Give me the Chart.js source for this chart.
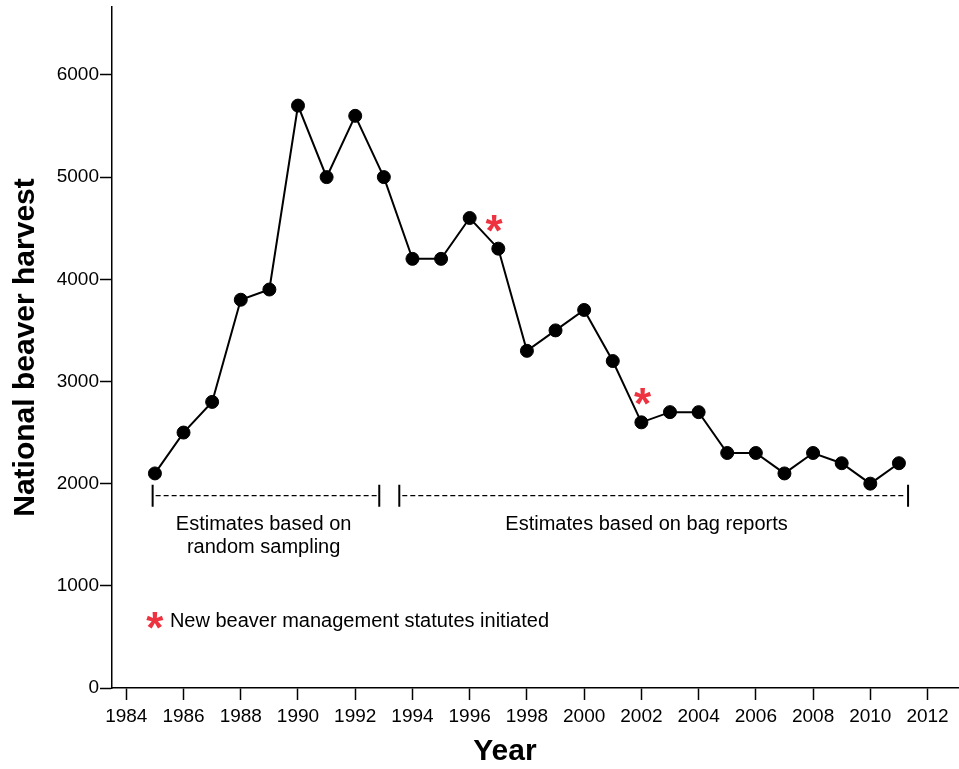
<!DOCTYPE html>
<html>
<head>
<meta charset="utf-8">
<script src="https://cdn.jsdelivr.net/npm/chart.js@4/dist/chart.umd.min.js"></script>
<style>
  body { margin: 0; background: #fff; }
  #chart { display: block; }
</style>
</head>
<body>
<canvas id="chart" width="959" height="769"></canvas>
<script>
const years = [1985, 1986, 1987, 1988, 1989, 1990, 1991, 1992, 1993, 1994, 1995, 1996, 1997, 1998,
  1999, 2000, 2001, 2002, 2003, 2004, 2005, 2006, 2007, 2008, 2009, 2010, 2011];
const harvest = [2100, 2500, 2800, 3800, 3900, 5700, 5000, 5600, 5000, 4200, 4200, 4600, 4300, 3300,
  3500, 3700, 3200, 2600, 2700, 2700, 2300, 2300, 2100, 2300, 2200, 2000, 2200];
const xTicks = [1984, 1986, 1988, 1990, 1992, 1994, 1996, 1998, 2000, 2002, 2004, 2006, 2008, 2010, 2012];
const yTicks = [0, 1000, 2000, 3000, 4000, 5000, 6000];

// statute markers (red asterisks) placed next to 1997 and 2002
const starX = [1996.85, 2002.04];
const starY = [4525, 2833];

// period brackets: [from, to] in years
const periods = [[1984.92, 1992.84], [1993.54, 2011.32]];
const periodLabels = [['Estimates based on', 'random sampling'], ['Estimates based on bag reports']];
const periodLabelX = [1988.8, 2002.18];

const font = 'Liberation Sans, Arial, sans-serif';

const notes = {
  id: 'notes',
  afterDatasetsDraw(chart) {
    const ctx = chart.ctx;
    const x = chart.scales.x;
    const y = chart.scales.y;
    ctx.save();

    // brackets
    const by = y.getPixelForValue(1882);
    ctx.strokeStyle = '#000';
    periods.forEach(p => {
      const x0 = x.getPixelForValue(p[0]);
      const x1 = x.getPixelForValue(p[1]);
      ctx.setLineDash([]);
      ctx.lineWidth = 2;
      ctx.beginPath();
      ctx.moveTo(x0, by - 11); ctx.lineTo(x0, by + 11);
      ctx.moveTo(x1, by - 11); ctx.lineTo(x1, by + 11);
      ctx.stroke();
      ctx.lineWidth = 1.3;
      ctx.setLineDash([5, 3]);
      ctx.beginPath();
      ctx.moveTo(x0 + 3, by); ctx.lineTo(x1 - 2, by);
      ctx.stroke();
    });
    ctx.setLineDash([]);

    // bracket labels
    ctx.fillStyle = '#000';
    ctx.font = '20px ' + font;
    ctx.textAlign = 'center';
    ctx.textBaseline = 'middle';
    periodLabels.forEach((lines, i) => {
      const cx = x.getPixelForValue(periodLabelX[i]);
      lines.forEach((t, j) => {
        ctx.fillText(t, cx, y.getPixelForValue(1600) + j * 23);
      });
    });

    // red asterisks
    ctx.fillStyle = '#ee3340';
    ctx.font = 'bold 44px ' + font;
    ctx.textBaseline = 'alphabetic';
    starX.forEach((sx, i) => {
      ctx.fillText('*', x.getPixelForValue(sx), y.getPixelForValue(starY[i]) + 20);
    });

    // key
    const ky = y.getPixelForValue(650);
    const kx = x.getPixelForValue(1985);
    ctx.font = 'bold 44px ' + font;
    ctx.fillText('*', kx, ky + 21);
    ctx.fillStyle = '#000';
    ctx.font = '20px ' + font;
    ctx.textAlign = 'left';
    ctx.textBaseline = 'middle';
    ctx.fillText('New beaver management statutes initiated', kx + 15, ky);

    // x axis title (sits left of the axis centre in the original)
    ctx.font = 'bold 30px ' + font;
    ctx.textAlign = 'center';
    ctx.fillText('Year', x.getPixelForValue(1997.23), chart.height - 17);

    ctx.restore();
  }
};

new Chart(document.getElementById('chart'), {
  type: 'line',
  data: {
    datasets: [{
      data: years.map((yr, i) => ({ x: yr, y: harvest[i] })),
      borderColor: '#000',
      borderWidth: 2,
      backgroundColor: '#000',
      pointRadius: 6.5,
      pointBorderWidth: 1,
      pointBackgroundColor: '#000',
      pointBorderColor: '#000',
      tension: 0
    }]
  },
  options: {
    responsive: false,
    animation: false,
    layout: { autoPadding: false, padding: { top: 7, right: 0, left: 0, bottom: 0 } },
    plugins: { legend: { display: false }, tooltip: { enabled: false } },
    scales: {
      x: {
        type: 'linear',
        min: 1983.5,
        max: 2013.1,
        afterBuildTicks: s => { s.ticks = xTicks.map(v => ({ value: v })); },
        afterFit: s => { s.height = 81; s.paddingLeft = 0; s.paddingRight = 0; },
        border: { color: '#000', width: 1.5 },
        grid: { drawOnChartArea: false, color: '#000', tickLength: 12, tickWidth: 1.5 },
        ticks: { color: '#000', font: { family: font, size: 19 }, padding: 5, maxRotation: 0, callback: v => String(v) },
        title: { display: false }
      },
      y: {
        min: 0,
        max: 6665,
        afterBuildTicks: s => { s.ticks = yTicks.map(v => ({ value: v })); },
        afterFit: s => { s.width = 112; s.paddingTop = 0; s.paddingBottom = 0; },
        border: { color: '#000', width: 1.5 },
        grid: { drawOnChartArea: false, color: '#000', tickLength: 12, tickWidth: 1.5 },
        ticks: { color: '#000', font: { family: font, size: 19 }, padding: 1, callback: v => String(v) },
        title: { display: true, text: 'National beaver harvest', color: '#000', font: { family: font, size: 30, weight: 'bold' }, padding: { top: 8, bottom: 0 } }
      }
    }
  },
  plugins: [notes]
});
</script>
</body>
</html>
